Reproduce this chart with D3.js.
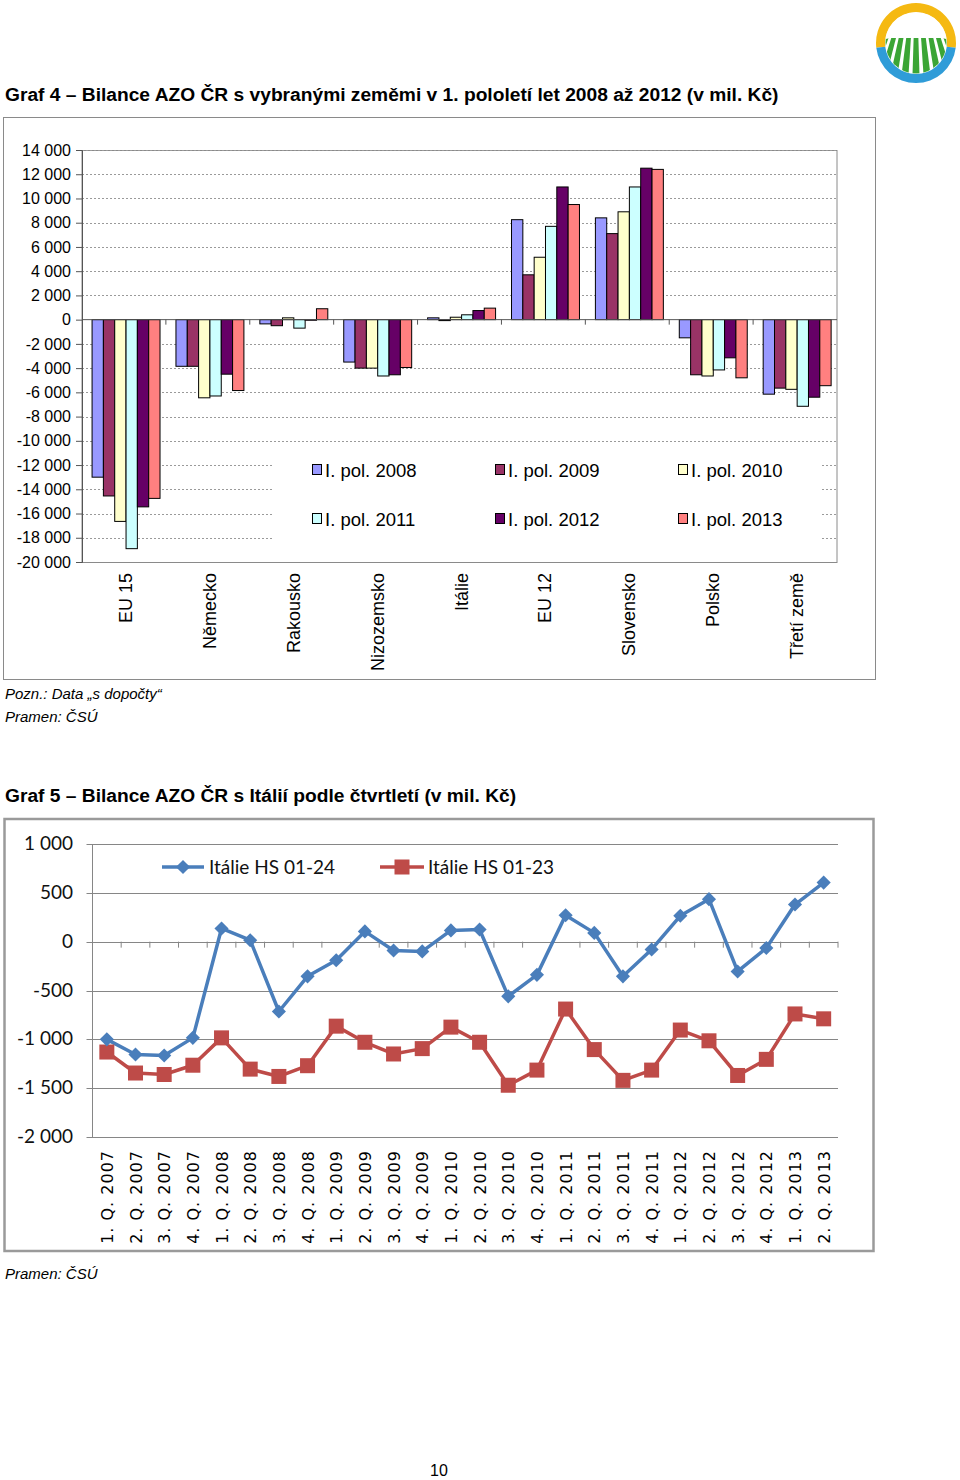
<!DOCTYPE html>
<html><head><meta charset="utf-8">
<script src="https://cdn.jsdelivr.net/npm/d3@7"></script>
<style>body{margin:0;background:#fff}svg{display:block}</style>
</head><body>
<svg id="page" width="960" height="1480"></svg>
<script>
// ---------- DATA: Graf 4 ----------
const categories = ["EU 15","Německo","Rakousko","Nizozemsko","Itálie","EU 12","Slovensko","Polsko","Třetí země"];
const seriesNames = ["I. pol. 2008","I. pol. 2009","I. pol. 2010","I. pol. 2011","I. pol. 2012","I. pol. 2013"];
const pol2008 = [-13000,-3850,-350,-3500,150,8250,8400,-1500,-6150];
const pol2009 = [-14550,-3850,-500,-4000,-80,3700,7100,-4550,-5650];
const pol2010 = [-16650,-6450,150,-4000,200,5150,8900,-4650,-5750];
const pol2011 = [-18900,-6300,-700,-4650,400,7700,10950,-4150,-7150];
const pol2012 = [-15450,-4500,-50,-4550,750,10950,12500,-3150,-6400];
const pol2013 = [-14750,-5850,900,-3950,950,9500,12400,-4800,-5450];
const yTicks1 = [14000,12000,10000,8000,6000,4000,2000,0,-2000,-4000,-6000,-8000,-10000,-12000,-14000,-16000,-18000,-20000];

// ---------- DATA: Graf 5 ----------
const quarters = ["1. Q. 2007","2. Q. 2007","3. Q. 2007","4. Q. 2007","1. Q. 2008","2. Q. 2008","3. Q. 2008","4. Q. 2008","1. Q. 2009","2. Q. 2009","3. Q. 2009","4. Q. 2009","1. Q. 2010","2. Q. 2010","3. Q. 2010","4. Q. 2010","1. Q. 2011","2. Q. 2011","3. Q. 2011","4. Q. 2011","1. Q. 2012","2. Q. 2012","3. Q. 2012","4. Q. 2012","1. Q. 2013","2. Q. 2013"];
const hs0124 = [-1000,-1155,-1165,-985,135,15,-715,-355,-190,105,-90,-100,115,125,-560,-340,270,90,-355,-80,265,435,-305,-65,380,605];
const hs0123 = [-1130,-1345,-1360,-1265,-985,-1305,-1380,-1270,-865,-1030,-1150,-1095,-875,-1030,-1470,-1315,-690,-1105,-1420,-1315,-905,-1015,-1370,-1205,-740,-790];
const yTicks2 = [1000,500,0,-500,-1000,-1500,-2000];
const lineNames = ["Itálie HS 01-24","Itálie HS 01-23"];

const svg = d3.select("#page");
const fmt = v => { const s = d3.format(",")(v).replace(/,/g, " "); return s.replace("−","-"); };
const ARIAL = "Liberation Sans, Arial, sans-serif";

// ---------- Logo ----------
(function(){
  const LX = 916, LY = 43;
  const g = svg.append("g").attr("transform",`translate(${LX},${LY})`);
  const defs = svg.append("defs");
  defs.append("clipPath").attr("id","logoClip").append("circle").attr("cx",LX).attr("cy",LY).attr("r",30.5);
  const arc = d3.arc().innerRadius(31).outerRadius(40);
  g.append("path").attr("d", arc({startAngle:-Math.PI/2-0.12, endAngle:Math.PI/2+0.12})).attr("fill","#F5B912");
  g.append("path").attr("d", arc({startAngle:Math.PI/2+0.12, endAngle:3*Math.PI/2-0.12})).attr("fill","#2F9CD8");
  const f = svg.append("g").attr("clip-path","url(#logoClip)");
  const vx = LX, vy = -40, horizon = LY-5, bottom = LY+32;
  d3.range(-8,9).map(i => i*11).forEach(dx => {
    const w = 7;
    const k1 = (horizon - vy)/(bottom - vy);
    const pts = [[vx + (dx - w/2)*k1, horizon],[vx + (dx + w/2)*k1, horizon],[vx + dx + w/2, bottom],[vx + dx - w/2, bottom]];
    f.append("path").attr("d","M"+pts.join("L")+"Z").attr("fill","#3BA535");
  });
  f.append("path").attr("d",`M${LX-40},${LY-40} L${LX+40},${LY-40} L${LX+40},${LY-1} Q${LX},${LY-15} ${LX-40},${LY-1} Z`).attr("fill","#fff");
})();

// ---------- Graf 4 ----------
svg.append("text").attr("x",5).attr("y",101).attr("font-family",ARIAL)
  .attr("font-weight","bold").attr("font-size",19.2).attr("fill","#000")
  .text("Graf 4 – Bilance AZO ČR s vybranými zeměmi v 1. pololetí let 2008 až 2012 (v mil. Kč)");
svg.append("rect").attr("x",3.5).attr("y",117.5).attr("width",872).attr("height",562)
  .attr("fill","#fff").attr("stroke","#8a8a8a").attr("stroke-width",1);

const p1 = {l:82, r:837, t:150, b:562};
const y1 = d3.scaleLinear().domain([-20000,14000]).range([p1.b,p1.t]);
const x0 = d3.scaleBand().domain(categories).range([p1.l,p1.r]).padding(0);
const x1 = d3.scaleBand().domain(seriesNames).range([x0.bandwidth()*0.12, x0.bandwidth()*0.93]).padding(0);
const colors1 = ["#9999FF","#993366","#FFFFCC","#CCFFFF","#660066","#FF8080"];
const seriesVals = [pol2008,pol2009,pol2010,pol2011,pol2012,pol2013];

svg.append("rect").attr("x",p1.l).attr("y",p1.t+0.5).attr("width",p1.r-p1.l).attr("height",p1.b-p1.t)
  .attr("fill","#fff").attr("stroke","#8a8a8a");
svg.append("g").selectAll("line").data(yTicks1.filter(v=>v!==-20000 && v!==0)).join("line")
  .attr("x1",p1.l).attr("x2",p1.r).attr("y1",d=>Math.round(y1(d))+0.5).attr("y2",d=>Math.round(y1(d))+0.5)
  .attr("stroke","#9a9a9a").attr("stroke-dasharray","2,2").attr("stroke-width",1);
svg.append("rect").attr("x",272).attr("y",446).attr("width",548).attr("height",99).attr("fill","#fff");
const bg = svg.append("g");
seriesVals.forEach((vals,si) => {
  bg.selectAll(null).data(vals).join("rect")
    .attr("x",(d,i)=>x0(categories[i])+x1(seriesNames[si]))
    .attr("width",x1.bandwidth())
    .attr("y",d=>y1(Math.max(0,d)))
    .attr("height",d=>Math.abs(y1(d)-y1(0)))
    .attr("fill",colors1[si]).attr("stroke","#000").attr("stroke-width",1);
});
svg.append("line").attr("x1",p1.l).attr("x2",p1.r).attr("y1",y1(0)).attr("y2",y1(0)).attr("stroke","#555");
svg.append("g").selectAll("line").data(categories.slice(1)).join("line")
  .attr("x1",d=>x0(d)).attr("x2",d=>x0(d)).attr("y1",y1(0)).attr("y2",y1(0)+5).attr("stroke","#555");
const ya1 = d3.axisLeft(y1).tickValues(yTicks1).tickSize(6).tickPadding(5).tickFormat(fmt);
const yg1 = svg.append("g").attr("transform",`translate(${p1.l},0)`).call(ya1);
yg1.select(".domain").attr("stroke","#555");
yg1.selectAll(".tick line").attr("stroke","#555");
yg1.selectAll("text").attr("font-family",ARIAL).attr("font-size",16).attr("fill","#000");
svg.append("g").selectAll("text").data(categories).join("text")
  .attr("transform",d=>`translate(${x0(d)+x0.bandwidth()/2+8},573) rotate(-90)`)
  .attr("text-anchor","end").attr("font-family",ARIAL).attr("font-size",18).text(d=>d);
const legPos = [[312,470],[495,470],[678,470],[312,519],[495,519],[678,519]];
seriesNames.forEach((n,i) => {
  const [lx,ly] = legPos[i];
  svg.append("rect").attr("x",lx+0.5).attr("y",ly-5.5).attr("width",9).attr("height",10)
    .attr("fill",colors1[i]).attr("stroke","#000");
  svg.append("text").attr("x",lx+13).attr("y",ly+6.5).attr("font-family",ARIAL)
    .attr("font-size",18.5).text(n);
});

svg.append("text").attr("x",5).attr("y",699).attr("font-family",ARIAL)
  .attr("font-style","italic").attr("font-size",15).text("Pozn.: Data „s dopočty“");
svg.append("text").attr("x",5).attr("y",722).attr("font-family",ARIAL)
  .attr("font-style","italic").attr("font-size",15).text("Pramen: ČSÚ");

// ---------- Graf 5 ----------
svg.append("text").attr("x",5).attr("y",802).attr("font-family",ARIAL)
  .attr("font-weight","bold").attr("font-size",19.2).text("Graf 5 – Bilance AZO ČR s Itálií podle čtvrtletí (v mil. Kč)");
svg.append("rect").attr("x",4.5).attr("y",819).attr("width",869).attr("height",432)
  .attr("fill","#fff").attr("stroke","#9a9a9a").attr("stroke-width",2.5);

const p2 = {l:92.5, r:838, t:844, b:1137};
const y2 = d3.scaleLinear().domain([-2000,1000]).range([p2.b,p2.t]);
const x2 = d3.scaleBand().domain(quarters).range([p2.l,p2.r]).padding(0);
const cx = q => x2(q) + x2.bandwidth()/2;

svg.append("g").selectAll("line").data(yTicks2).join("line")
  .attr("x1",p2.l-6).attr("x2",p2.r).attr("y1",d=>Math.round(y2(d))+0.5).attr("y2",d=>Math.round(y2(d))+0.5)
  .attr("stroke","#868686").attr("stroke-width",1);
svg.append("line").attr("x1",p2.l).attr("x2",p2.l).attr("y1",p2.t).attr("y2",p2.b).attr("stroke","#868686");
svg.append("g").selectAll("line").data(quarters).join("line")
  .attr("x1",d=>x2(d)+x2.bandwidth()).attr("x2",d=>x2(d)+x2.bandwidth())
  .attr("y1",y2(0)).attr("y2",y2(0)+6).attr("stroke","#868686");
svg.append("g").selectAll("text").data(yTicks2).join("text")
  .attr("x",73).attr("y",d=>y2(d)+6).attr("text-anchor","end")
  .attr("font-family","Lato, sans-serif").attr("font-size",19).attr("fill","#111").text(fmt);
svg.append("g").selectAll("text").data(quarters).join("text")
  .attr("transform",d=>`translate(${cx(d)+6},1150) rotate(-90)`).attr("text-anchor","end")
  .attr("font-family","DejaVu Sans, Verdana, sans-serif").attr("font-size",16).attr("letter-spacing",1)
  .attr("fill","#000").text(d=>d);

const blue = "#4A7EBB", red = "#BE4B48";
const line = d3.line().x((d,i)=>cx(quarters[i])).y(d=>y2(d));
svg.append("path").attr("d",line(hs0123)).attr("fill","none").attr("stroke",red).attr("stroke-width",3.5).attr("stroke-linejoin","round");
svg.append("path").attr("d",line(hs0124)).attr("fill","none").attr("stroke",blue).attr("stroke-width",3.5).attr("stroke-linejoin","round");
const sq = 15;
svg.append("g").selectAll("rect").data(hs0123).join("rect")
  .attr("x",(d,i)=>cx(quarters[i])-sq/2).attr("y",d=>y2(d)-sq/2).attr("width",sq).attr("height",sq).attr("fill",red);
svg.append("g").selectAll("path").data(hs0124).join("path")
  .attr("d",d3.symbol().type(d3.symbolSquare).size(100)())
  .attr("transform",(d,i)=>`translate(${cx(quarters[i])},${y2(d)}) rotate(45)`).attr("fill",blue);

svg.append("line").attr("x1",162).attr("x2",204).attr("y1",867).attr("y2",867).attr("stroke",blue).attr("stroke-width",3.5);
svg.append("path").attr("d",d3.symbol().type(d3.symbolSquare).size(100)()).attr("transform","translate(183,867) rotate(45)").attr("fill",blue);
svg.append("text").attr("x",209).attr("y",874).attr("font-family","Lato, sans-serif").attr("font-size",19).attr("fill","#111").text(lineNames[0]);
svg.append("line").attr("x1",380).attr("x2",424).attr("y1",867).attr("y2",867).attr("stroke",red).attr("stroke-width",3.5);
svg.append("rect").attr("x",402-sq/2).attr("y",867-sq/2).attr("width",sq).attr("height",sq).attr("fill",red);
svg.append("text").attr("x",428).attr("y",874).attr("font-family","Lato, sans-serif").attr("font-size",19).attr("fill","#111").text(lineNames[1]);

svg.append("text").attr("x",5).attr("y",1279).attr("font-family",ARIAL)
  .attr("font-style","italic").attr("font-size",15).text("Pramen: ČSÚ");
svg.append("text").attr("x",439).attr("y",1476).attr("text-anchor","middle").attr("font-family",ARIAL)
  .attr("font-size",16).text("10");
</script>
</body></html>
